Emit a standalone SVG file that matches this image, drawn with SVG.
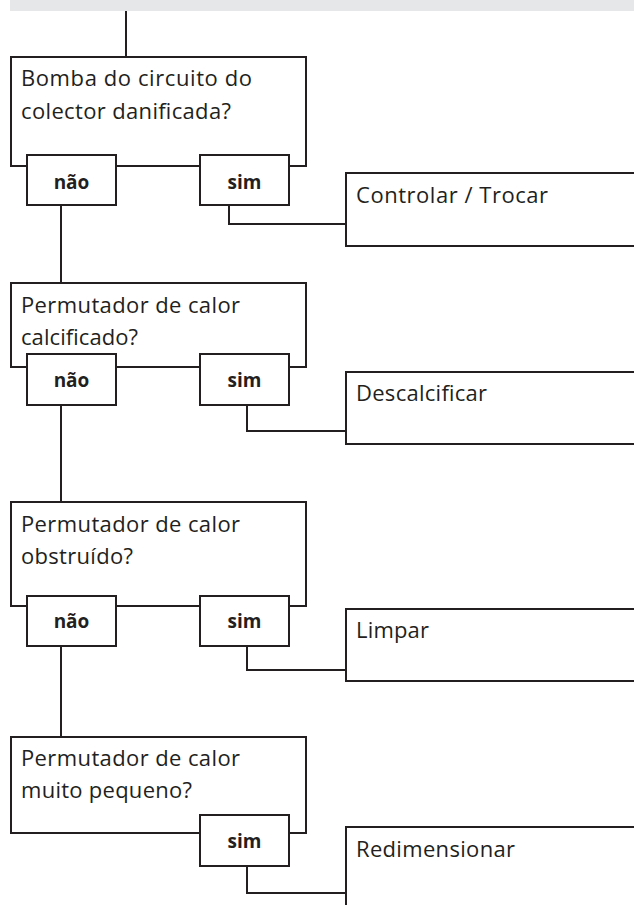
<svg xmlns="http://www.w3.org/2000/svg" width="634" height="905" viewBox="0 0 634 905">
<style>
.box{fill:#fff;stroke:#231f20;stroke-width:2}
.ln{fill:none;stroke:#231f20;stroke-width:2}
.t{font-family:"Open Sans","Liberation Sans",sans-serif;font-size:22px;fill:#231f20}
.b{font-family:"Open Sans","Liberation Sans",sans-serif;font-size:19px;font-weight:bold;fill:#231f20;text-anchor:middle}
</style>
<rect x="10" y="0" width="624" height="11" fill="#e6e7e8"/>
<g id="connectors">
<path class="ln" d="M126,11 V57"/>
<path class="ln" d="M61,205 V283"/>
<path class="ln" d="M229,205 V224 H346"/>
<path class="ln" d="M61,405 V502"/>
<path class="ln" d="M247,405 V431 H346"/>
<path class="ln" d="M61,646 V737"/>
<path class="ln" d="M247,646 V670 H346"/>
<path class="ln" d="M247,866 V893 H346"/>
</g>
<g id="q1">
<rect class="box" x="11" y="57" width="295" height="109"/>
<text class="t" x="21" y="86" textLength="231">Bomba do circuito do</text>
<text class="t" x="21" y="119" textLength="210">colector danificada?</text>
</g>
<g id="q1-nao"><rect class="box" x="27" y="155" width="89" height="50"/><text class="b" x="71.5" y="189">não</text></g>
<g id="q1-sim"><rect class="box" x="200" y="155" width="89" height="50"/><text class="b" x="244.5" y="189">sim</text></g>
<g id="a1">
<path class="ln" d="M634,173 H346 V246 H634"/>
<text class="t" x="356" y="203" textLength="192">Controlar / Trocar</text>
</g>
<g id="q2">
<rect class="box" x="11" y="283" width="295" height="84"/>
<text class="t" x="21" y="313" textLength="219">Permutador de calor</text>
<text class="t" x="21" y="345" textLength="117">calcificado?</text>
</g>
<g id="q2-nao"><rect class="box" x="27" y="354" width="89" height="51"/><text class="b" x="71.5" y="387">não</text></g>
<g id="q2-sim"><rect class="box" x="200" y="354" width="89" height="51"/><text class="b" x="244.5" y="387">sim</text></g>
<g id="a2">
<path class="ln" d="M634,372 H346 V444 H634"/>
<text class="t" x="356" y="401" textLength="131">Descalcificar</text>
</g>
<g id="q3">
<rect class="box" x="11" y="502" width="295" height="104"/>
<text class="t" x="21" y="532" textLength="219">Permutador de calor</text>
<text class="t" x="21" y="564" textLength="112">obstruído?</text>
</g>
<g id="q3-nao"><rect class="box" x="27" y="596" width="89" height="50"/><text class="b" x="71.5" y="628">não</text></g>
<g id="q3-sim"><rect class="box" x="200" y="596" width="89" height="50"/><text class="b" x="244.5" y="628">sim</text></g>
<g id="a3">
<path class="ln" d="M634,609 H346 V681 H634"/>
<text class="t" x="356" y="638" textLength="73">Limpar</text>
</g>
<g id="q4">
<rect class="box" x="11" y="737" width="295" height="96"/>
<text class="t" x="21" y="766" textLength="219">Permutador de calor</text>
<text class="t" x="21" y="798" textLength="171">muito pequeno?</text>
</g>
<g id="q4-sim"><rect class="box" x="200" y="815" width="89" height="51"/><text class="b" x="244.5" y="848">sim</text></g>
<g id="a4">
<path class="ln" d="M634,827 H346 V906"/>
<text class="t" x="356" y="857" textLength="159">Redimensionar</text>
</g>
</svg>
